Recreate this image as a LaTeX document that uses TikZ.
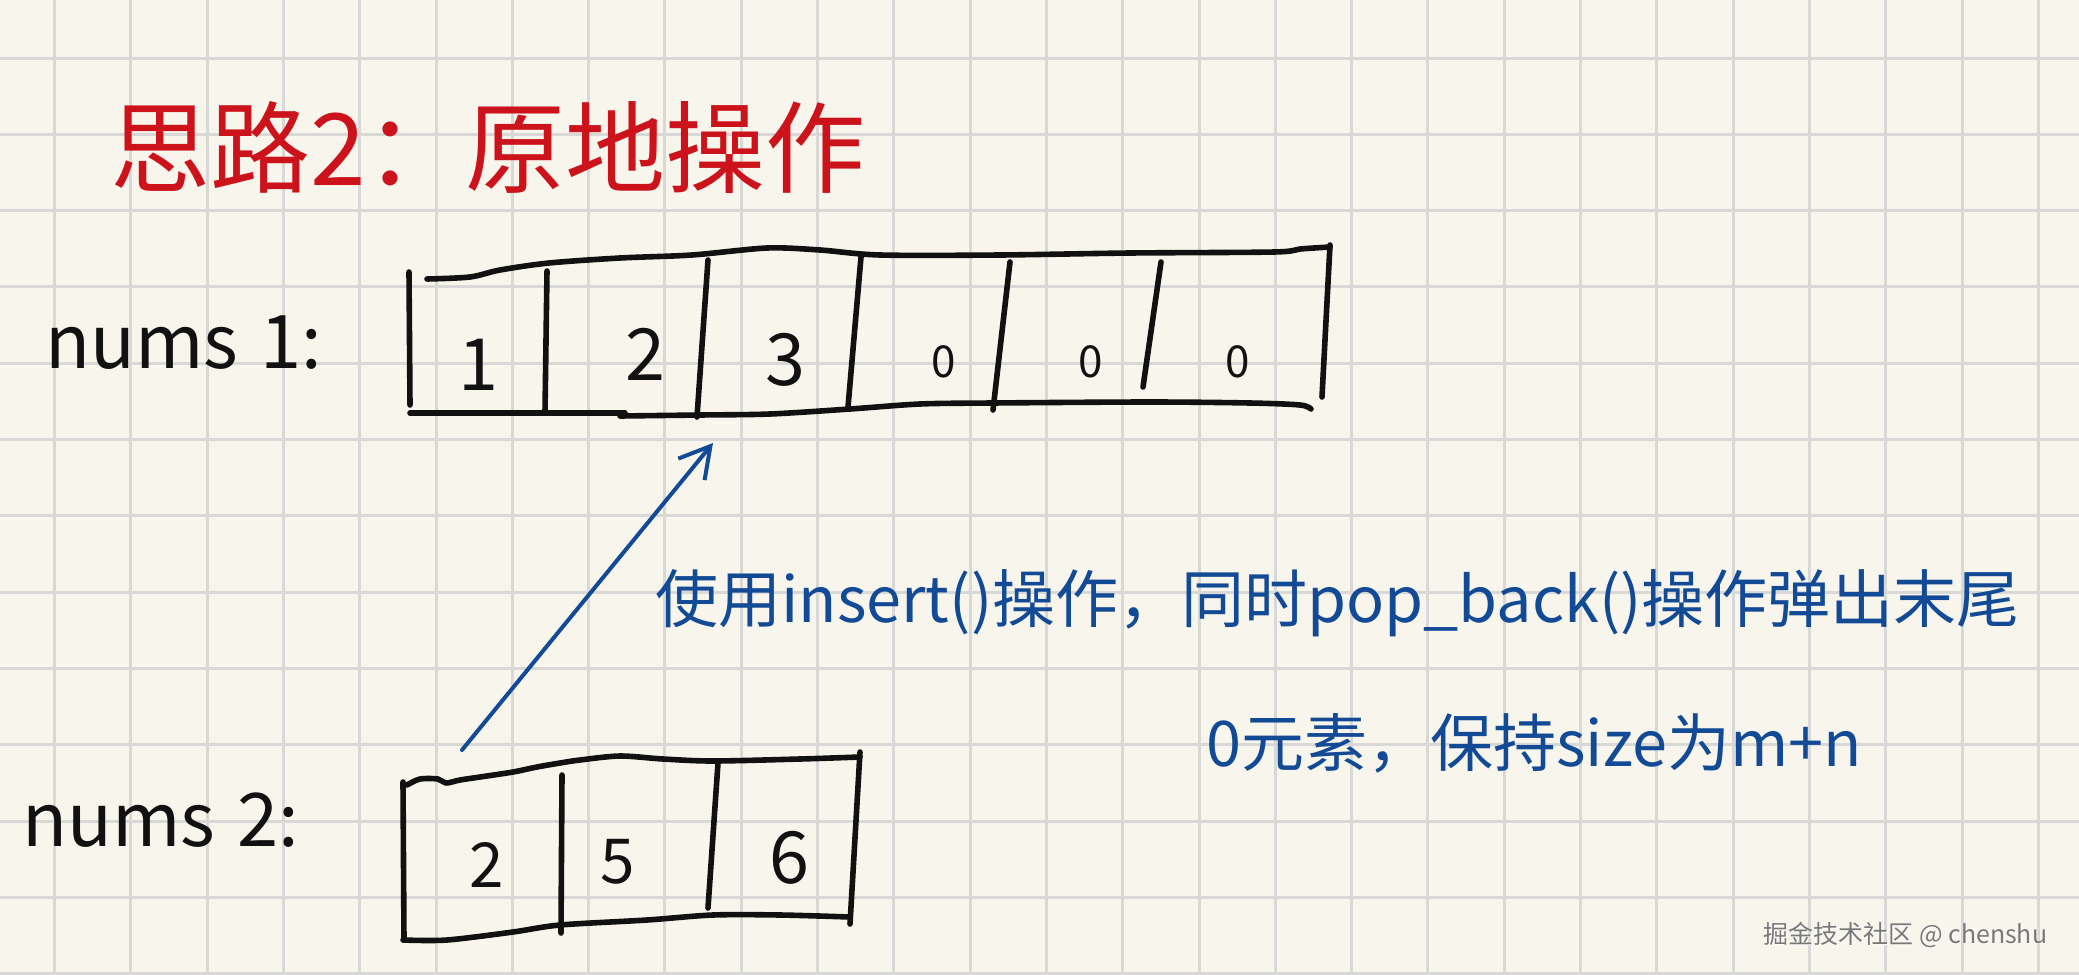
\documentclass[tikz,border=0pt]{standalone}
\usepackage{fontspec}
\newfontfamily\cjk{Noto Sans CJK SC}
\usetikzlibrary{arrows.meta}
\definecolor{paper}{RGB}{248,246,236}
\definecolor{gridc}{RGB}{216,216,214}
\definecolor{inkred}{RGB}{204,18,26}
\definecolor{inkblue}{RGB}{18,74,150}
\definecolor{ink}{RGB}{17,17,17}
\definecolor{wmgray}{RGB}{120,120,120}
\begin{document}
\begin{tikzpicture}[x=0.5pt,y=-0.5pt,
  gridline/.style={draw=gridc, line width=1.5pt},
  stroke/.style={draw=ink, line width=2.8pt, line cap=round, line join=round},
  titletext/.style={text=inkred, font=\cjk\fontsize{50pt}{60pt}\selectfont, inner sep=0pt, anchor=base west},
  arrlabel/.style={text=ink, font=\cjk\fontsize{37pt}{44pt}\selectfont, inner sep=0pt, anchor=base west},
  bignum/.style={text=ink, font=\cjk\fontsize{36pt}{40pt}\selectfont, inner sep=0pt, anchor=base},
  midnum/.style={text=ink, font=\cjk\fontsize{31pt}{36pt}\selectfont, inner sep=0pt, anchor=base},
  smallnum/.style={text=ink, font=\cjk\fontsize{22pt}{26pt}\selectfont, inner sep=0pt, anchor=base},
  notetext/.style={text=inkblue, font=\cjk\fontsize{31.5pt}{40pt}\selectfont, inner sep=0pt, anchor=base west},
  wmtext/.style={font=\cjk\fontsize{12.5pt}{15pt}\selectfont, inner sep=0pt, anchor=base west},
  arrowline/.style={draw=inkblue, line width=2pt, line cap=round, -{Straight Barb[length=15pt,width=17pt]}}
]
\useasboundingbox (0,0) rectangle (2079,975);
\fill[paper] (0,0) rectangle (2079,975);
% grid
\foreach \i in {0,...,26} \draw[gridline] ({54.5+76.3*\i},0) -- ({54.5+76.3*\i},975);
\foreach \j in {0,...,12} \draw[gridline] (0,{58+76.3*\j}) -- (2079,{58+76.3*\j});

% title
\node[titletext] (title) at (110,185) {思路2：原地操作};

% nums1
\node[arrlabel] (lab1) at (45,368) {nums\kern0.3em 1:};
\draw[stroke] (409,272) -- (410,405);
\draw[stroke] plot[smooth] coordinates {(427,279) (470,277) (500,270) (549,263) (620,258) (692,255) (767,248) (820,250) (880,255) (1000,255) (1130,253) (1274,252) (1300,249) (1330,247)};
\draw[stroke] (1330,245) -- (1322,397);
\draw[stroke] (410,413) -- (625,413);
\draw[stroke] plot[smooth] coordinates {(620,416) (700,415) (770,414) (850,409) (920,404) (992,403) (1150,402) (1250,403) (1300,405) (1311,409)};
\draw[stroke] (547,271) -- (545,412);
\draw[stroke] (708,260) -- (697,417);
\draw[stroke] (861,257) -- (848,407);
\draw[stroke] (1010,262) -- (993,410);
\draw[stroke] (1161,262) -- (1143,387);
\node[bignum] (a1) at (478,390) {1};
\node[bignum] (a2) at (645,380) {2};
\node[bignum] (a3) at (785,385) {3};
\node[smallnum] (a4) at (944,377) {0};
\node[smallnum] (a5) at (1091,377) {0};
\node[smallnum] (a6) at (1238,377) {0};
\coordinate (target) at (713,443);

% nums2
\node[arrlabel] (lab2) at (22,846) {nums\kern0.3em 2:};
\draw[stroke] (403,782) -- (404,940);
\draw[stroke] plot[smooth] coordinates {(407,785) (420,779) (438,779) (446,783) (460,780) (480,777) (513,772) (537,767) (560,763) (580,760) (620,756) (663,759) (713,761) (800,759) (860,757)};
\draw[stroke] (860,752) -- (850,924);
\draw[stroke] plot[smooth] coordinates {(403,940) (447,940) (513,932) (560,925) (647,920) (713,915) (780,915) (850,917)};
\draw[stroke] (562,775) -- (561,933);
\draw[stroke] (718,763) -- (708,908);
\node[midnum] (b1) at (487,887) {2};
\node[midnum] (b2) at (618,883) {5};
\node[bignum] (b3) at (789,883) {6};
\coordinate (source) at (462,750);

% arrow
\draw[arrowline] (source) -- (target);

% note
\node[notetext] (note1) at (655,622) {使用insert()操作，同时pop\_back()操作弹出末尾};
\node[notetext] (note2) at (1206,766) {0元素，保持size为m+n};

% watermark
\node[wmtext, text=white] at (1764.5,944.5) {掘金技术社区 @ chenshu};
\node[wmtext, text=wmgray] (wm) at (1763,943) {掘金技术社区 @ chenshu};
\end{tikzpicture}
\end{document}
